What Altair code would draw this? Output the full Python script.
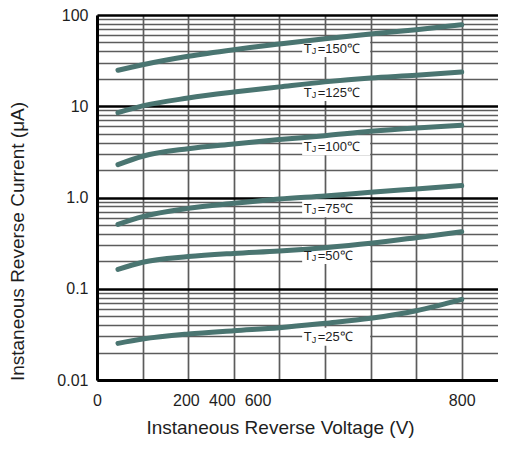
import altair as alt
import pandas as pd

# ---- data ----
voltage = [46, 100, 200, 300, 400, 500, 600, 700, 800]
i_150 = [24.8, 28.5, 35.3, 41.7, 48.1, 55.0, 61.9, 69.0, 78.3]
i_125 = [8.5, 10.1, 12.3, 14.3, 16.3, 18.5, 20.4, 21.8, 23.7]
i_100 = [2.29, 2.83, 3.43, 3.86, 4.31, 4.76, 5.31, 5.78, 6.18]
i_75 = [0.508, 0.617, 0.760, 0.863, 0.963, 1.04, 1.14, 1.24, 1.35]
i_50 = [0.163, 0.195, 0.225, 0.244, 0.259, 0.282, 0.315, 0.363, 0.422]
i_25 = [0.0252, 0.0281, 0.0319, 0.0347, 0.0374, 0.0418, 0.0474, 0.0574, 0.0766]

temps = ["150", "125", "100", "75", "50", "25"]
label_v = [450, 450, 450, 450, 450, 450]
label_i = [43.5, 14.3, 3.64, 0.762, 0.234, 0.0298]

x_tick_pos = [0, 195, 274, 352, 800]
x_tick_text = ["0", "200", "400", "600", "800"]
x_grid = [0, 100, 200, 300, 400, 500, 600, 700, 800]
y_decades = [0.01, 0.1, 1, 10, 100]
y_decade_text = ["0.01", "0.1", "1.0", "10", "100"]
y_mult = [1, 2, 3, 4, 5, 6, 7, 8, 9]

series = {"150": i_150, "125": i_125, "100": i_100, "75": i_75, "50": i_50, "25": i_25}
rows = []
for t, vals in series.items():
    for v, i in zip(voltage, vals):
        rows.append({"T": t, "V": v, "I": i})
curves = pd.DataFrame(rows)
labels = pd.DataFrame({"T": temps, "V": label_v, "I": label_i,
                       "rest": ["=" + t + "\u2103" for t in temps]})

y_grid = [round(m * d, 6) for d in y_decades[:-1] for m in y_mult] + [y_decades[-1]]

FONT = "Liberation Sans"
TXT = "#1e1e1e"
GRID = "#5c5c5c"

x_label_expr = " : ".join(
    f"datum.value == {p} ? '{t}'" for p, t in zip(x_tick_pos, x_tick_text)) + " : ''"
y_label_expr = " : ".join(
    f"datum.value == {p} ? '{t}'" for p, t in zip(y_decades, y_decade_text)) + " : ''"
major_test = " || ".join(f"datum.value == {d}" for d in y_decades)

xscale = alt.Scale(domain=[0, 879.6], nice=False, zero=False)
yscale = alt.Scale(type="log", domain=[0.01, 100], nice=False)

x_axis = alt.Axis(values=x_tick_pos, labelExpr=x_label_expr, grid=False, ticks=False,
                  domain=True, domainColor="black", domainWidth=3,
                  labelFont=FONT, labelFontSize=16, labelColor=TXT, labelPadding=12,
                  labelFlush=False, labelOverlap=False,
                  title="Instaneous Reverse Voltage (V)", titleFont=FONT,
                  titleFontSize=19, titleFontWeight="normal", titleColor=TXT,
                  titleX=183, titleY=53.5, titleAlign="center", titleBaseline="alphabetic")

x_grid_axis = alt.Axis(orient="top", values=x_grid, grid=True, gridColor=GRID,
                       gridWidth=1.7, labels=False, ticks=False, domain=False, title=None)

y_axis = alt.Axis(values=y_grid, labelExpr=y_label_expr, grid=True,
                  gridColor={"condition": {"test": major_test, "value": "black"}, "value": GRID},
                  gridWidth={"condition": {"test": major_test, "value": 2.3}, "value": 1.7},
                  ticks=False, domain=True, domainColor="black", domainWidth=3,
                  labelFont=FONT, labelFontSize=16, labelColor=TXT, labelPadding=9,
                  labelOverlap=False, labelFlush=False,
                  title="Instaneous Reverse Current (\u03bcA)", titleFont=FONT,
                  titleFontSize=19, titleFontWeight="normal", titleColor=TXT,
                  titleAngle=270, titleX=-74, titleY=226, titleAlign="center",
                  titleBaseline="alphabetic")

Y = alt.Y("I:Q", scale=yscale, axis=y_axis)

boxes = alt.Chart(labels).mark_point(
    shape="M0,-0.265H2V0.265H0Z", size=4624, filled=True, fill="white",
    opacity=1, strokeWidth=0
).encode(
    x=alt.X("V:Q", scale=xscale, axis=x_grid_axis),
    y=Y,
)

lines = alt.Chart(curves).mark_line(
    strokeWidth=5, strokeCap="round", interpolate="monotone", color="#4a7571"
).encode(
    x=alt.X("V:Q", scale=xscale, axis=x_axis),
    y=Y,
    detail="T:N",
)

t_main = alt.Chart(labels).mark_text(
    text="T", align="left", baseline="alphabetic", dx=1.5, dy=4.6,
    font=FONT, fontSize=13, color=TXT
).encode(x=alt.X("V:Q", scale=xscale, axis=None), y=Y)

t_sub = alt.Chart(labels).mark_text(
    text="J", align="left", baseline="alphabetic", dx=9.5, dy=6.2,
    font=FONT, fontSize=9, color=TXT
).encode(x=alt.X("V:Q", scale=xscale, axis=None), y=Y)

t_rest = alt.Chart(labels).mark_text(
    align="left", baseline="alphabetic", dx=15.5, dy=4.6,
    font=FONT, fontSize=13, color=TXT
).encode(x=alt.X("V:Q", scale=xscale, axis=None), y=Y, text="rest:N")

chart = alt.layer(boxes, lines, t_main, t_sub, t_rest).resolve_axis(
    x="independent"
).properties(
    width=401, height=365,
    autosize=alt.AutoSizeParams(type="none"),
    padding={"left": 89, "top": 7, "right": 0, "bottom": 58},
    background="white",
).configure_view(stroke=None)

chart.save("out.html", embed_options={"renderer": "svg", "actions": False})
